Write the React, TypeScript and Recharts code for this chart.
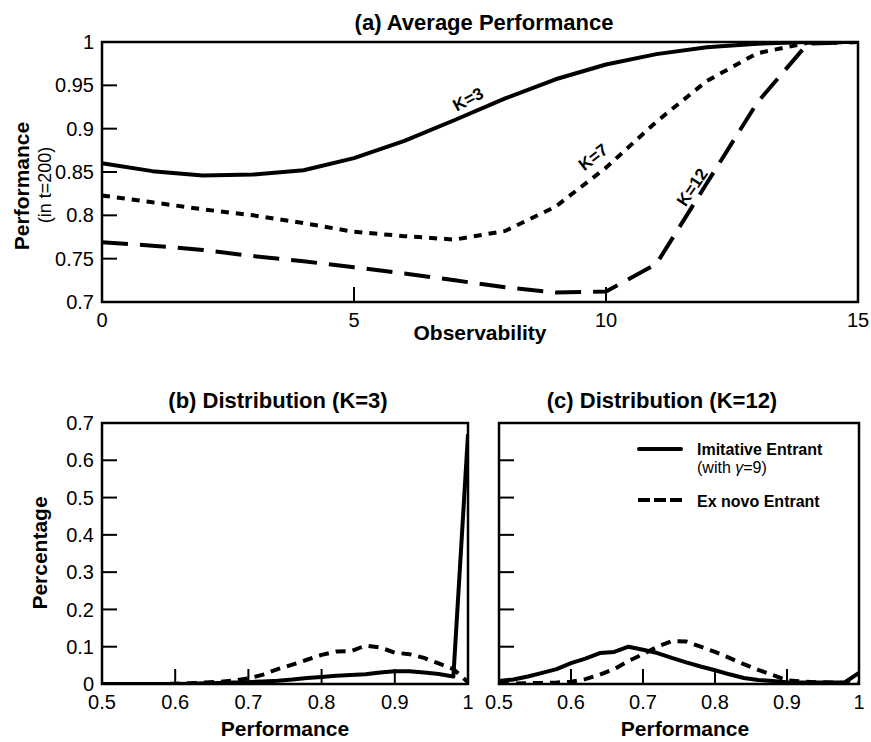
import React from 'react';
import { LineChart, Line, XAxis, YAxis, ReferenceArea } from 'recharts';

// ---------- (a) Average Performance ----------
const observability = [0, 1, 2, 3, 4, 5, 6, 7, 8, 9, 10, 11, 12, 13, 14, 15];
const k3 = [0.860, 0.851, 0.846, 0.847, 0.852, 0.866, 0.886, 0.910, 0.935, 0.957, 0.974, 0.986, 0.994, 0.998, 1.0, 1.0];
const k7 = [0.823, 0.815, 0.807, 0.800, 0.791, 0.781, 0.776, 0.772, 0.782, 0.810, 0.855, 0.908, 0.955, 0.987, 0.999, 1.0];
const k12 = [0.769, 0.765, 0.760, 0.753, 0.747, 0.740, 0.733, 0.725, 0.717, 0.711, 0.712, 0.744, 0.837, 0.930, 0.998, 1.0];
const obsTicks = [0, 5, 10, 15];
const avgPerfTicks = [0.7, 0.75, 0.8, 0.85, 0.9, 0.95, 1];

// ---------- (b), (c) Distributions ----------
const perfBins = [0.5, 0.52, 0.54, 0.56, 0.58, 0.6, 0.62, 0.64, 0.66, 0.68, 0.7, 0.72, 0.74, 0.76, 0.78, 0.8, 0.82, 0.84, 0.86, 0.88, 0.9, 0.92, 0.94, 0.96, 0.98, 1.0];
const bImitative = [0, 0, 0, 0, 0, 0, 0.001, 0.002, 0.003, 0.004, 0.005, 0.007, 0.009, 0.012, 0.016, 0.019, 0.022, 0.024, 0.026, 0.031, 0.034, 0.034, 0.031, 0.027, 0.02, 0.67];
const bExNovo = [0, 0, 0, 0, 0, 0.001, 0.002, 0.004, 0.006, 0.009, 0.015, 0.025, 0.04, 0.052, 0.065, 0.078, 0.087, 0.088, 0.103, 0.098, 0.084, 0.08, 0.07, 0.055, 0.04, 0.005];
const cImitative = [0.008, 0.012, 0.02, 0.03, 0.04, 0.056, 0.068, 0.083, 0.086, 0.1, 0.092, 0.083, 0.07, 0.058, 0.047, 0.037, 0.026, 0.016, 0.011, 0.008, 0.005, 0.004, 0.004, 0.004, 0.004, 0.03];
const cExNovo = [0, 0.001, 0.002, 0.003, 0.004, 0.006, 0.013, 0.025, 0.04, 0.062, 0.08, 0.1, 0.115, 0.114, 0.1, 0.086, 0.07, 0.053, 0.038, 0.024, 0.01, 0.007, 0.005, 0.004, 0.003, 0.002];
const perfTicks = [0.5, 0.6, 0.7, 0.8, 0.9, 1];
const pctTicks = [0, 0.1, 0.2, 0.3, 0.4, 0.5, 0.6, 0.7];

const FONT = '"Liberation Sans", Arial, Helvetica, sans-serif';
const tickStyle = { fill: '#000', fontSize: 20, fontFamily: FONT };
const tickLineStyle = { stroke: '#000', strokeWidth: 2 };

const avgData = observability.map((x, i) => ({ x, k3: k3[i], k7: k7[i], k12: k12[i] }));
const bData = perfBins.map((p, i) => ({ p, imit: bImitative[i], exnovo: bExNovo[i] }));
const cData = perfBins.map((p, i) => ({ p, imit: cImitative[i], exnovo: cExNovo[i] }));

function DistChart({ data, showY, width, yWidth, right }: { data: any[]; showY: boolean; width: number; yWidth: number; right: number }) {
  return (
    <LineChart width={width} height={340} data={data} margin={{ top: 43, right, bottom: 6, left: 0 }}>
      <XAxis
        dataKey="p"
        type="number"
        domain={[0.5, 1]}
        ticks={perfTicks}
        allowDataOverflow
        height={30}
        tickSize={-15}
        tickMargin={26}
        tick={tickStyle}
        tickLine={tickLineStyle}
        axisLine={false}
        interval={0}
      />
      <YAxis
        type="number"
        domain={[0, 0.7]}
        ticks={pctTicks}
        allowDataOverflow
        width={yWidth}
        tickSize={-15}
        tickMargin={23}
        tick={tickStyle}
        tickLine={tickLineStyle}
        tickFormatter={showY ? undefined : () => ''}
        axisLine={false}
        interval={0}
      />
      <ReferenceArea x1={0.5} x2={1} y1={0} y2={0.7} fill="none" stroke="#000" strokeWidth={2.5} ifOverflow="visible" />
      <Line type="linear" dataKey="exnovo" stroke="#000" strokeWidth={4} strokeDasharray="10 7" dot={false} isAnimationActive={false} />
      <Line type="linear" dataKey="imit" stroke="#000" strokeWidth={4} dot={false} strokeLinejoin="round" isAnimationActive={false} />
    </LineChart>
  );
}

function VText({ cx, cy, fs, weight, children }: { cx: number; cy: number; fs: number; weight?: any; children: any }) {
  return (
    <text
      x={cx}
      y={cy + 0.358 * fs}
      textAnchor="middle"
      fontSize={fs}
      fontWeight={weight}
      fontFamily={FONT}
      fill="#000"
      transform={`rotate(-90, ${cx}, ${cy})`}
    >
      {children}
    </text>
  );
}

function RText({ cx, cy, fs, angle, children }: { cx: number; cy: number; fs: number; angle: number; children: any }) {
  return (
    <text
      x={cx}
      y={cy + 0.358 * fs}
      textAnchor="middle"
      fontSize={fs}
      fontWeight="bold"
      fontFamily={FONT}
      fill="#000"
      transform={`rotate(${angle}, ${cx}, ${cy})`}
    >
      {children}
    </text>
  );
}

export default function App() {
  return (
    <div style={{ position: 'absolute', left: 0, top: 0, width: 871, height: 742, background: '#fff', fontFamily: FONT }}>
      <div style={{ position: 'absolute', left: 0, top: 0 }}>
        <LineChart width={871} height={345} data={avgData} margin={{ top: 42, right: 13, bottom: 13, left: 0 }}>
          <XAxis
            dataKey="x"
            type="number"
            domain={[0, 15]}
            ticks={obsTicks}
            height={30}
            tickSize={-15}
            tickMargin={26}
            tick={tickStyle}
            tickLine={tickLineStyle}
            axisLine={false}
            interval={0}
          />
          <YAxis
            type="number"
            domain={[0.7, 1]}
            ticks={avgPerfTicks}
            allowDataOverflow
            width={102}
            tickSize={-15}
            tickMargin={23}
            tick={tickStyle}
            tickLine={tickLineStyle}
            axisLine={false}
            interval={0}
          />
          <ReferenceArea x1={0} x2={15} y1={0.7} y2={1} fill="none" stroke="#000" strokeWidth={2.5} ifOverflow="visible" />
          <Line type="linear" dataKey="k12" stroke="#000" strokeWidth={4} strokeDasharray="26 12" dot={false} isAnimationActive={false} />
          <Line type="linear" dataKey="k7" stroke="#000" strokeWidth={4} strokeDasharray="8 7" dot={false} isAnimationActive={false} />
          <Line type="linear" dataKey="k3" stroke="#000" strokeWidth={4} dot={false} strokeLinejoin="round" isAnimationActive={false} />
        </LineChart>
      </div>
      <div style={{ position: 'absolute', left: 0, top: 380 }}>
        <DistChart data={bData} showY={true} width={478} yWidth={102} right={10} />
      </div>
      <div style={{ position: 'absolute', left: 440, top: 380 }}>
        <DistChart data={cData} showY={false} width={431} yWidth={59} right={12} />
      </div>
      <svg width={871} height={742} style={{ position: 'absolute', left: 0, top: 0, pointerEvents: 'none' }}>
        <text x={484} y={29.5} textAnchor="middle" fontSize={22} fontWeight="bold" fontFamily={FONT}>(a) Average Performance</text>
        <text x={480} y={340} textAnchor="middle" fontSize={21} fontWeight="bold" fontFamily={FONT}>Observability</text>
        <VText cx={21} cy={186} fs={21} weight="bold">Performance</VText>
        <VText cx={45} cy={185} fs={18}>(in t=200)</VText>
        <RText cx={468} cy={99} fs={17} angle={-28}>K=3</RText>
        <RText cx={593} cy={157} fs={17} angle={-38}>K=7</RText>
        <RText cx={692} cy={187} fs={17} angle={-56}>K=12</RText>

        <text x={278} y={407.5} textAnchor="middle" fontSize={22} fontWeight="bold" fontFamily={FONT}>(b) Distribution (K=3)</text>
        <text x={662} y={407.5} textAnchor="middle" fontSize={22} fontWeight="bold" fontFamily={FONT}>(c) Distribution (K=12)</text>
        <VText cx={39} cy={553} fs={21} weight="bold">Percentage</VText>
        <text x={285} y={735.5} textAnchor="middle" fontSize={21} fontWeight="bold" fontFamily={FONT}>Performance</text>
        <text x={685} y={735.5} textAnchor="middle" fontSize={21} fontWeight="bold" fontFamily={FONT}>Performance</text>

        <line x1={639} y1={449} x2={681} y2={449} stroke="#000" strokeWidth={4} strokeLinecap="round" />
        <text x={697} y={455} fontSize={16} fontWeight="bold" fontFamily={FONT}>Imitative Entrant</text>
        <text x={697} y={473} fontSize={16} fontFamily={FONT}>(with <tspan fontStyle="italic">γ</tspan>=9)</text>
        <line x1={638} y1={500} x2={682} y2={500} stroke="#000" strokeWidth={4} strokeDasharray="12 4" />
        <text x={697} y={507} fontSize={16} fontWeight="bold" fontFamily={FONT}>Ex novo Entrant</text>
      </svg>
    </div>
  );
}
